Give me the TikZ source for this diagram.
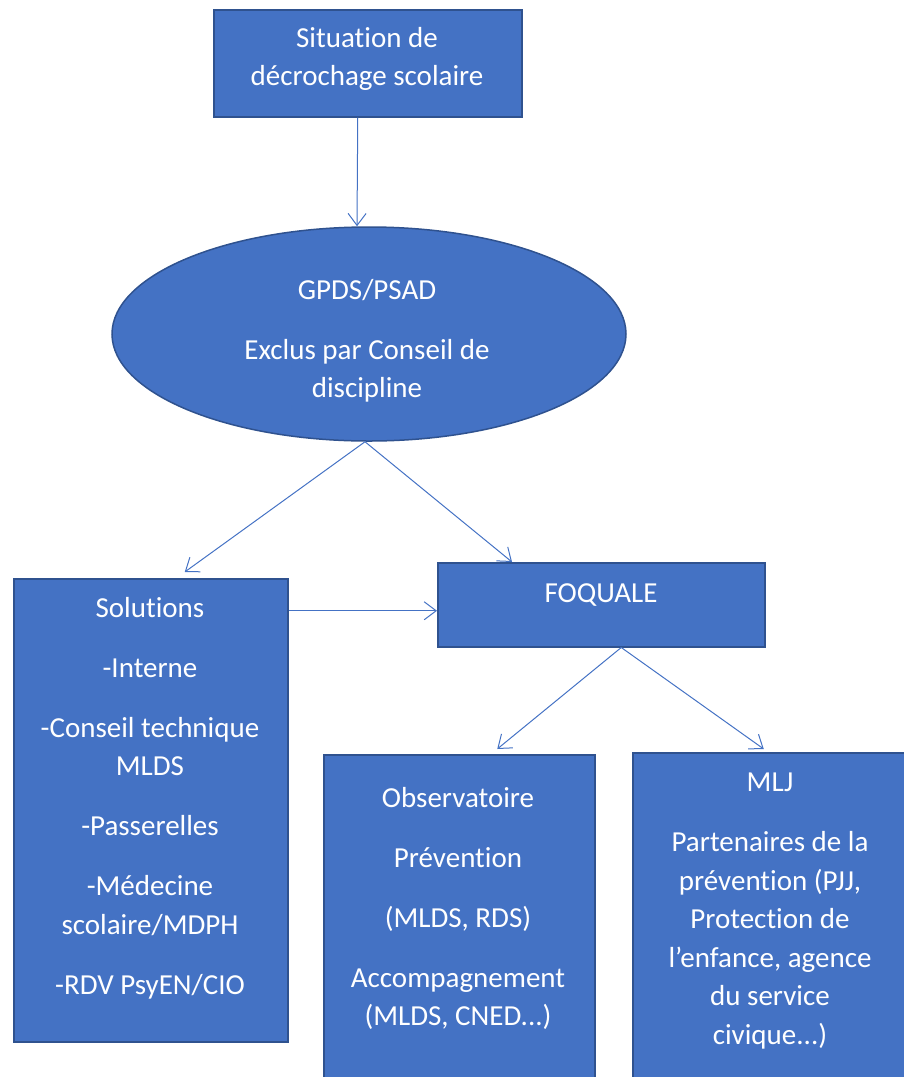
\documentclass[tikz,border=0pt]{standalone}
\usepackage{fontspec}
\setmainfont{Carlito}[Ligatures={NoCommon}]
\usetikzlibrary{arrows.meta,shapes.geometric,positioning}
\tikzstyle{box}=[draw=edgeblue,fill=boxblue,line width=1.5pt,anchor=north west,inner sep=0pt]
\tikzstyle{txt}=[text=white,align=center,inner sep=0pt,anchor=north,font=\fontsize{29}{38.5}\selectfont]
\tikzstyle{link}=[draw=boxblue,line width=1pt,-{Straight Barb[length=12pt,width=18pt]}]
\definecolor{boxblue}{RGB}{68,114,196}
\definecolor{edgeblue}{RGB}{47,82,143}

\begin{document}
\begin{tikzpicture}[x=1pt,y=-1pt]
\useasboundingbox (0,0) rectangle (903,1077);
\node[box,minimum width=308pt,minimum height=107pt] (sit) at (213,9) {};
\node[draw=edgeblue,fill=boxblue,line width=1.5pt,ellipse,minimum width=514pt,minimum height=214pt,inner sep=0pt] (gpds) at (369,334) {};
\node[box,minimum width=274pt,minimum height=463pt] (sol) at (13,578) {};
\node[box,minimum width=327pt,minimum height=84pt] (foq) at (437,562) {};
\node[box,minimum width=271pt,minimum height=340pt] (obs) at (323,754) {};
\node[box,minimum width=290pt,minimum height=340pt] (mlj) at (632,752) {};
\node[txt] (sit-t) at (367,27) {Situation de\\décrochage scolaire};
\node[txt] (gpds-t) at (367,279) {GPDS/PSAD\\[21.5pt]Exclus par Conseil de\\discipline};
\node[txt] (sol-t) at (150,597) {Solutions\\[21.5pt]-Interne\\[21.5pt]-Conseil technique\\MLDS\\[21.5pt]-Passerelles\\[21.5pt]-Médecine\\scolaire/MDPH\\[21.5pt]-RDV PsyEN/CIO};
\node[txt] (foq-t) at (601,583) {FOQUALE};
\node[txt] (obs-t) at (458,787) {Observatoire\\[21.5pt]Prévention\\[21.5pt](MLDS, RDS)\\[21.5pt]Accompagnement\\(MLDS, CNED...)};
\node[txt] (mlj-t) at (770,773) {MLJ\\[21.5pt]Partenaires de la\\prévention (PJJ,\\Protection de\\l’enfance, agence\\du service\\civique...)};
\coordinate (foq-in) at ([yshift=-6pt]foq.west);
\draw[link] ([xshift=-10pt]sit.south) -- ([xshift=-12pt]gpds.north);
\draw[link] ([xshift=-4pt]gpds.south) -- ([xshift=34pt,yshift=6pt]sol.north);
\draw[link] ([xshift=-4pt]gpds.south) -- ([xshift=75pt]foq.north west);
\draw[link] (foq-in -| sol.east) -- (foq-in);
\draw[link] ([xshift=20pt]foq.south) -- ([xshift=38pt,yshift=5pt]obs.north);
\draw[link] ([xshift=20pt]foq.south) -- ([xshift=-14pt,yshift=3pt]mlj.north);
\end{tikzpicture}
\end{document}
